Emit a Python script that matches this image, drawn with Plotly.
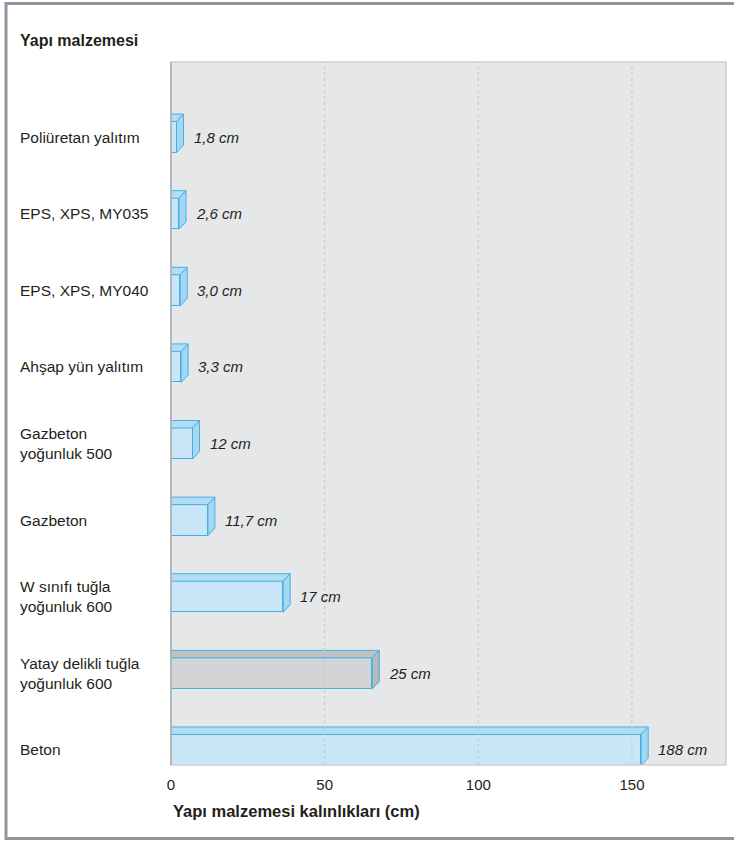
import plotly.graph_objects as go

# ---- data (top to bottom as shown) ----
categories = [
    "Poliüretan yalıtım",
    "EPS, XPS, MY035",
    "EPS, XPS, MY040",
    "Ahşap yün yalıtım",
    "Gazbeton<br>yoğunluk 500",
    "Gazbeton",
    "W sınıfı tuğla<br>yoğunluk 600",
    "Yatay delikli tuğla<br>yoğunluk 600",
    "Beton",
]
bar_lengths = [1.8, 2.6, 3.0, 3.3, 7.0, 12.0, 36.5, 65.5, 153.0]
value_labels = ["1,8 cm", "2,6 cm", "3,0 cm", "3,3 cm", "12 cm", "11,7 cm", "17 cm", "25 cm", "188 cm"]
highlight = [False, False, False, False, False, False, False, True, False]
x_ticks = [0, 50, 100, 150]
title_text = "Yapı malzemesi"
x_title = "Yapı malzemesi kalınlıkları (cm)"

# ---- style ----
W, H = 734, 841
L, R, T, B = 171, 8, 62, 76
PW, PH = W - L - R, H - T - B
X_RANGE = [0, 180.6]
Y_RANGE = [-0.196, 8.98]
px_x = PW / (X_RANGE[1] - X_RANGE[0])
px_y = PH / (Y_RANGE[1] - Y_RANGE[0])
DX = 7 / px_x
DY = 7.5 / px_y
BAR_W = 0.405
HALF = BAR_W / 2

EDGE = "#3fb2e6"
BLUE = dict(front="#c8e6f8", top="#b4ddf4", side="#a6d6f1")
GRAY = dict(front="#d3d4d6", top="#c0c1c3", side="#b8b9bb")
TXT = "#231f20"
FONT = "Liberation Sans, Arial, sans-serif"

n = len(categories)
ypos = [n - 1 - i for i in range(n)]

fig = go.Figure()

# front faces
fig.add_trace(go.Bar(
    x=bar_lengths, y=ypos, orientation="h", width=BAR_W,
    marker=dict(color=[GRAY["front"] if h else BLUE["front"] for h in highlight],
                line=dict(color=EDGE, width=1)),
    hoverinfo="skip", showlegend=False,
))

# top and side faces
for v, y, h in zip(bar_lengths, ypos, highlight):
    pal = GRAY if h else BLUE
    top_x = [0, v, v + DX, 0, 0]
    top_y = [y + HALF, y + HALF, y + HALF + DY, y + HALF + DY, y + HALF]
    fig.add_trace(go.Scatter(x=top_x, y=top_y, mode="lines", fill="toself",
                             fillcolor=pal["top"], line=dict(color=EDGE, width=1),
                             hoverinfo="skip", showlegend=False))
    side_x = [v, v + DX, v + DX, v, v]
    side_y = [y - HALF, y - HALF + DY, y + HALF + DY, y + HALF, y - HALF]
    fig.add_trace(go.Scatter(x=side_x, y=side_y, mode="lines", fill="toself",
                             fillcolor=pal["side"], line=dict(color=EDGE, width=1),
                             hoverinfo="skip", showlegend=False))

annotations = []
# value labels
for v, y, lab in zip(bar_lengths, ypos, value_labels):
    annotations.append(dict(x=v, y=y, xref="x", yref="y", text=lab, showarrow=False,
                            xanchor="left", yanchor="middle", xshift=15,
                            font=dict(family=FONT, size=15, color=TXT, style="italic")))
# category labels
for c, y in zip(categories, ypos):
    annotations.append(dict(x=(18 - L) / PW, y=y, xref="paper", yref="y", text=c,
                            showarrow=False, xanchor="left", yanchor="middle", align="left",
                            font=dict(family=FONT, size=15.5, color=TXT)))
# titles
annotations.append(dict(x=(18 - L) / PW, y=1 + (T - 41) / PH, xref="paper", yref="paper",
                        text="<b>" + title_text + "</b>", showarrow=False,
                        xanchor="left", yanchor="middle",
                        font=dict(family=FONT, size=16, color=TXT)))
annotations.append(dict(x=(171 - L) / PW, y=-(811 - (T + PH)) / PH, xref="paper", yref="paper",
                        text="<b>" + x_title + "</b>", showarrow=False,
                        xanchor="left", yanchor="middle",
                        font=dict(family=FONT, size=16.5, color=TXT)))

shapes = []
# dotted grid lines on top of bars
for t in x_ticks[1:]:
    shapes.append(dict(type="line", xref="x", yref="paper", x0=t, x1=t, y0=0, y1=1,
                       line=dict(color="#c3c5c8", width=1, dash="dot"), layer="above"))
# plot frame
shapes.append(dict(type="rect", xref="paper", yref="paper", x0=0, x1=1, y0=0, y1=1,
                   line=dict(color="#cfd0d2", width=1.5), layer="above"))
shapes.append(dict(type="line", xref="paper", yref="paper", x0=0, x1=0, y0=0, y1=1,
                   line=dict(color="#a9abae", width=1.5), layer="above"))
# outer border
shapes.append(dict(type="rect", xref="paper", yref="paper",
                   x0=(6 - L) / PW, x1=(740 - L) / PW,
                   y0=-(838.5 - T - PH) / PH, y1=1 + (T - 3.5) / PH,
                   line=dict(color="#8e969d", width=3), layer="above"))

fig.update_layout(
    width=W, height=H,
    margin=dict(l=L, r=R, t=T, b=B, pad=0),
    paper_bgcolor="white", plot_bgcolor="#e6e7e9",
    font=dict(family=FONT, color=TXT),
    xaxis=dict(range=X_RANGE, tickvals=x_ticks, ticktext=[str(t) for t in x_ticks],
               showgrid=False, zeroline=False, showline=False,
               ticks="outside", ticklen=6, tickcolor="rgba(0,0,0,0)",
               tickfont=dict(family=FONT, size=15, color=TXT), fixedrange=True),
    yaxis=dict(range=Y_RANGE, showticklabels=False, showgrid=False, zeroline=False,
               showline=False, fixedrange=True),
    annotations=annotations, shapes=shapes, bargap=0,
)

fig.write_html("out.html")
